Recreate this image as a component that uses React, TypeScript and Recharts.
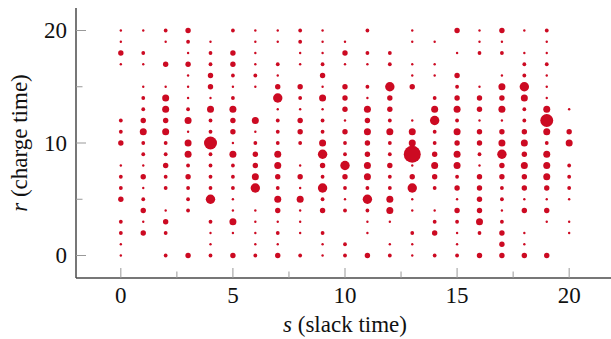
import { Scatter, ScatterChart, XAxis, YAxis } from "recharts"

// slack time s (columns) and charge time r (rows)
const slack = [0, 1, 2, 3, 4, 5, 6, 7, 8, 9, 10, 11, 12, 13, 14, 15, 16, 17, 18, 19, 20]

// dot size level per s for each r (0 = no dot)
const r20 = [1, 1, 2, 3, 0, 2, 1, 1, 2, 1, 0, 2, 0, 1, 0, 3, 1, 3, 1, 2, 0]
const r19 = [1, 0, 1, 2, 1, 0, 1, 1, 2, 1, 1, 0, 0, 1, 1, 0, 1, 1, 0, 1, 0]
const r18 = [3, 2, 0, 1, 2, 3, 1, 0, 1, 1, 3, 2, 2, 0, 0, 1, 2, 2, 1, 1, 0]
const r17 = [1, 1, 3, 3, 2, 3, 1, 2, 1, 2, 1, 1, 2, 1, 1, 0, 0, 0, 2, 2, 0]
const r16 = [0, 0, 0, 1, 3, 2, 2, 1, 0, 3, 0, 0, 0, 1, 1, 3, 0, 1, 2, 1, 0]
const r15 = [0, 1, 1, 1, 3, 1, 1, 3, 3, 1, 3, 2, 5, 3, 0, 2, 1, 4, 5, 1, 0]
const r14 = [0, 2, 4, 1, 1, 2, 0, 5, 2, 4, 3, 1, 3, 0, 2, 3, 3, 3, 4, 1, 0]
const r13 = [0, 2, 4, 2, 4, 4, 0, 1, 1, 1, 3, 4, 3, 0, 4, 4, 3, 4, 2, 4, 1]
const r12 = [2, 3, 3, 4, 2, 3, 4, 2, 3, 2, 1, 3, 2, 1, 5, 2, 1, 1, 2, 6, 0]
const r11 = [2, 4, 4, 1, 2, 3, 1, 2, 3, 2, 3, 4, 4, 4, 2, 4, 3, 3, 3, 4, 3]
const r10 = [3, 2, 2, 4, 6, 1, 2, 2, 2, 4, 2, 3, 2, 4, 2, 3, 3, 4, 4, 2, 4]
const r9 = [0, 2, 2, 4, 2, 4, 3, 4, 0, 5, 2, 3, 2, 7, 3, 4, 2, 5, 3, 4, 0]
const r8 = [1, 1, 3, 2, 2, 2, 3, 4, 1, 3, 5, 4, 3, 1, 4, 4, 1, 3, 4, 4, 2]
const r7 = [2, 3, 2, 3, 2, 2, 4, 3, 3, 2, 3, 4, 2, 3, 3, 2, 3, 3, 3, 4, 2]
const r6 = [2, 1, 2, 2, 2, 2, 5, 2, 1, 5, 2, 2, 2, 5, 2, 3, 3, 2, 3, 3, 2]
const r5 = [3, 2, 0, 2, 5, 1, 0, 4, 4, 2, 1, 5, 4, 1, 0, 1, 3, 2, 1, 1, 1]
const r4 = [0, 3, 1, 2, 0, 1, 1, 3, 1, 3, 2, 2, 4, 1, 1, 3, 3, 1, 3, 3, 0]
const r3 = [2, 1, 3, 0, 2, 4, 1, 1, 1, 0, 0, 1, 1, 0, 2, 2, 4, 2, 0, 1, 1]
const r2 = [2, 3, 2, 0, 1, 1, 1, 2, 1, 2, 0, 1, 0, 2, 3, 1, 2, 3, 1, 0, 1]
const r1 = [1, 0, 0, 0, 1, 0, 1, 1, 0, 1, 2, 0, 1, 1, 0, 1, 0, 3, 1, 0, 0]
const r0 = [1, 0, 2, 3, 2, 3, 2, 3, 2, 1, 2, 3, 2, 1, 2, 2, 3, 3, 3, 3, 0]

const rows = [r0, r1, r2, r3, r4, r5, r6, r7, r8, r9, r10, r11, r12, r13, r14, r15, r16, r17, r18, r19, r20]

const xTicks = [0, 2.5, 5, 7.5, 10, 12.5, 15, 17.5, 20]
const yTicks = [0, 5, 10, 15, 20]
const majorX = [0, 5, 10, 15, 20]
const majorY = [0, 10, 20]

const points = rows.flatMap((row, r) =>
  row.map((level, i) => ({ s: slack[i], r, level })).filter((p) => p.level > 0)
)

const RED = "#cc0a22"
const FRAME = "#4a4a4a"
const TICK = "#999"
const FONT = '"Liberation Serif"'
const radius = [0, 1.2, 1.9, 2.7, 3.5, 4.7, 6.5, 8.5]

// force the serif face on svg text
const serif = (el: SVGTextElement | null) => {
  if (el) el.style.setProperty("font-family", FONT, "important")
}

const Txt = (props: any) => (
  <text ref={serif} fontFamily="Liberation Serif" fontSize={23} fill="#111" {...props} />
)

const Dot = (props: any) => (
  <circle cx={props.cx} cy={props.cy} r={radius[props.payload.level]} fill={RED} />
)

const BottomTick = (props: any) => {
  const { x, y, payload } = props
  const major = majorX.includes(payload.value)
  return (
    <g>
      <line x1={x} x2={x} y1={y} y2={y - (major ? 10 : 6.5)} stroke={TICK} strokeWidth={1} />
      {major && (
        <Txt x={x} y={y + 25} textAnchor="middle">
          {payload.value}
        </Txt>
      )}
    </g>
  )
}

const TopTick = (props: any) => {
  const { x, y, payload } = props
  const major = majorX.includes(payload.value)
  return <line x1={x} x2={x} y1={y} y2={y + (major ? 10 : 6.5)} stroke={TICK} strokeWidth={1} />
}

const LeftTick = (props: any) => {
  const { x, y, payload } = props
  const major = majorY.includes(payload.value)
  return (
    <g>
      <line x1={x} x2={x + (major ? 10 : 6.5)} y1={y} y2={y} stroke={TICK} strokeWidth={1} />
      {major && (
        <Txt x={x - 9} y={y + 7.5} textAnchor="end">
          {payload.value}
        </Txt>
      )}
    </g>
  )
}

const RightTick = (props: any) => {
  const { x, y, payload } = props
  const major = majorY.includes(payload.value)
  return <line x1={x} x2={x - (major ? 10 : 6.5)} y1={y} y2={y} stroke={TICK} strokeWidth={1} />
}

const XLabel = (props: any) => {
  const vb = props.viewBox
  return (
    <Txt x={vb.x + vb.width / 2} y={332} textAnchor="middle">
      <tspan fontStyle="italic">s</tspan> (slack time)
    </Txt>
  )
}

const YLabel = (props: any) => {
  const vb = props.viewBox
  const cy = vb.y + vb.height / 2
  return (
    <Txt x={27} y={cy} transform={`rotate(-90, 27, ${cy})`} textAnchor="middle">
      <tspan fontStyle="italic">r</tspan> (charge time)
    </Txt>
  )
}

export default function App() {
  return (
    <div
      style={{
        position: "absolute",
        left: 0,
        top: 0,
        width: 611,
        height: 339,
        overflow: "hidden",
        background: "#fff",
        fontFamily: FONT,
      }}
    >
      <style>{`#root .recharts-wrapper svg text, #root .recharts-wrapper svg tspan { font-family: "Liberation Serif" !important; }`}</style>
      <ScatterChart width={614} height={339} margin={{ top: 8, right: 0, bottom: 0, left: 0 }}>
        <XAxis
          xAxisId="bottom"
          type="number"
          dataKey="s"
          domain={[-2, 22]}
          ticks={xTicks}
          interval={0}
          allowDataOverflow
          height={61}
          tickLine={false}
          tickSize={0}
          tickMargin={0}
          axisLine={{ stroke: FRAME, strokeWidth: 1.5 }}
          tick={<BottomTick />}
          label={<XLabel />}
        />
        <XAxis
          xAxisId="top"
          orientation="top"
          type="number"
          dataKey="s"
          domain={[-2, 22]}
          ticks={xTicks}
          interval={0}
          allowDataOverflow
          height={0}
          tickLine={false}
          tickSize={0}
          tickMargin={0}
          axisLine={{ stroke: FRAME, strokeWidth: 1.5 }}
          tick={<TopTick />}
        />
        <YAxis
          yAxisId="left"
          type="number"
          dataKey="r"
          domain={[-2, 22]}
          ticks={yTicks}
          interval={0}
          allowDataOverflow
          width={76}
          tickLine={false}
          tickSize={0}
          tickMargin={0}
          axisLine={{ stroke: FRAME, strokeWidth: 1.5 }}
          tick={<LeftTick />}
          label={<YLabel />}
        />
        <YAxis
          yAxisId="right"
          orientation="right"
          type="number"
          dataKey="r"
          domain={[-2, 22]}
          ticks={yTicks}
          interval={0}
          allowDataOverflow
          width={0}
          tickLine={false}
          tickSize={0}
          tickMargin={0}
          axisLine={{ stroke: FRAME, strokeWidth: 1.5 }}
          tick={<RightTick />}
        />
        <Scatter
          data={points}
          xAxisId="bottom"
          yAxisId="left"
          shape={<Dot />}
          isAnimationActive={false}
        />
      </ScatterChart>
    </div>
  )
}
